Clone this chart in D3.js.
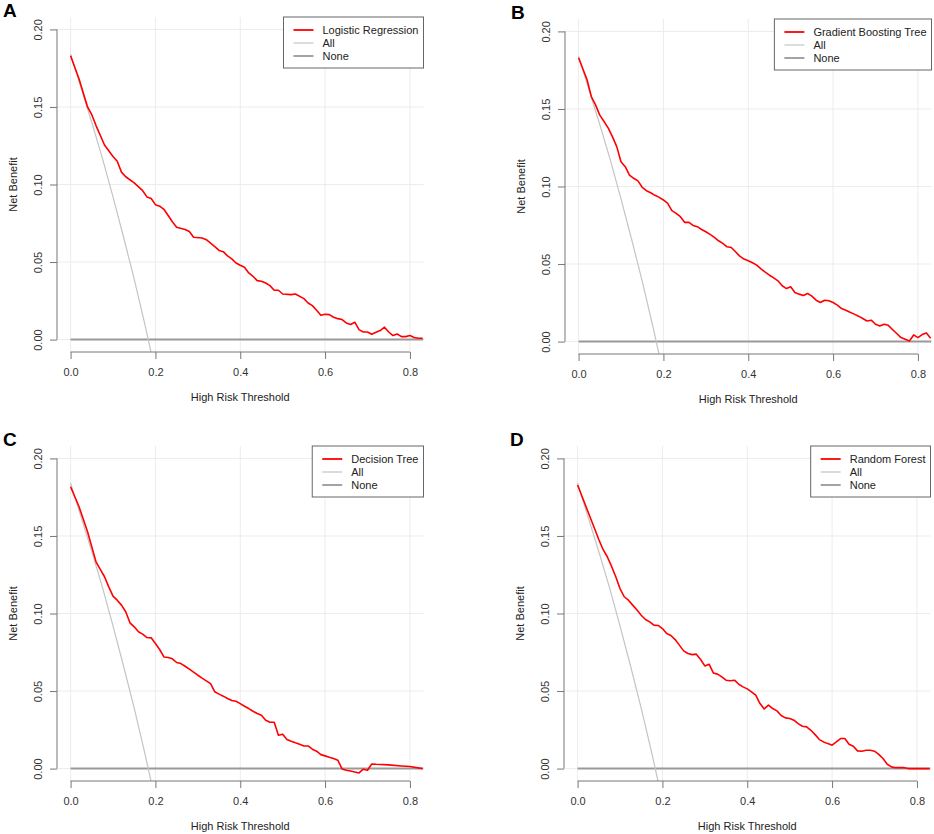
<!DOCTYPE html>
<html>
<head>
<meta charset="utf-8">
<script src="https://cdn.jsdelivr.net/npm/d3@7"></script>
<style>
  body { margin: 0; background: #fff; }
  text { font-family: "Liberation Sans", Arial, sans-serif; }
</style>
</head>
<body>
<svg id="chart" width="934" height="834"></svg>
<script>
// tick values
const xTicks = [0, 0.2, 0.4, 0.6, 0.8];
const yTicks = [0, 0.05, 0.10, 0.15, 0.20];

// "treat all" strategy
const allCurve = [
  [0, 0.184], [0.025, 0.162], [0.05, 0.140], [0.075, 0.117], [0.10, 0.092],
  [0.125, 0.066], [0.15, 0.039], [0.175, 0.010], [0.20, -0.021]
];

// model curves [threshold, net benefit]
const lrCurve = [
  [0, 0.183], [0.02, 0.168], [0.04, 0.150], [0.05, 0.145], [0.06, 0.138], [0.08, 0.1255],
  [0.10, 0.118], [0.11, 0.115], [0.12, 0.108], [0.13, 0.105], [0.15, 0.101], [0.17, 0.096],
  [0.18, 0.092], [0.19, 0.091], [0.20, 0.087], [0.21, 0.086], [0.22, 0.084], [0.24, 0.076],
  [0.25, 0.0725], [0.27, 0.071], [0.28, 0.0697], [0.29, 0.066], [0.31, 0.0655], [0.32, 0.0644],
  [0.34, 0.060], [0.35, 0.0575], [0.36, 0.0567], [0.37, 0.054], [0.38, 0.052], [0.39, 0.0494],
  [0.40, 0.0479], [0.41, 0.0466], [0.42, 0.043], [0.43, 0.0408], [0.44, 0.038], [0.45, 0.0376],
  [0.46, 0.0365], [0.47, 0.0348], [0.48, 0.0318], [0.49, 0.0318], [0.50, 0.0294], [0.52, 0.029],
  [0.53, 0.0294], [0.55, 0.0264], [0.56, 0.0236], [0.57, 0.0219], [0.58, 0.0189], [0.59, 0.0157],
  [0.60, 0.0163], [0.61, 0.0161], [0.62, 0.0144], [0.63, 0.0135], [0.64, 0.0129], [0.65, 0.0107],
  [0.66, 0.0097], [0.67, 0.0112], [0.68, 0.0064], [0.69, 0.0049], [0.70, 0.0049], [0.71, 0.0034],
  [0.72, 0.0047], [0.73, 0.0058], [0.74, 0.008], [0.75, 0.0049], [0.76, 0.0026], [0.77, 0.0036],
  [0.78, 0.0019], [0.79, 0.0019], [0.80, 0.0026], [0.81, 0.0013], [0.82, 0.0009], [0.83, 0.0009]
];

const gbtCurve = [
  [0, 0.183], [0.02, 0.1688], [0.03, 0.158], [0.04, 0.1526], [0.05, 0.146], [0.06, 0.1419],
  [0.07, 0.1376], [0.08, 0.132], [0.09, 0.1257], [0.10, 0.116], [0.11, 0.1128], [0.12, 0.1074],
  [0.13, 0.1053], [0.14, 0.1036], [0.15, 0.0995], [0.16, 0.0973], [0.17, 0.096], [0.18, 0.0943],
  [0.19, 0.093], [0.20, 0.0913], [0.21, 0.0891], [0.22, 0.0844], [0.23, 0.0827], [0.24, 0.0805],
  [0.25, 0.0769], [0.26, 0.0769], [0.27, 0.0749], [0.28, 0.0741], [0.29, 0.0723], [0.30, 0.0708],
  [0.31, 0.0691], [0.32, 0.0672], [0.33, 0.065], [0.34, 0.0633], [0.35, 0.0611], [0.36, 0.0607],
  [0.37, 0.0579], [0.38, 0.0551], [0.39, 0.0532], [0.40, 0.0521], [0.41, 0.0508], [0.42, 0.0493],
  [0.43, 0.0469], [0.44, 0.0448], [0.45, 0.0428], [0.46, 0.0411], [0.47, 0.0392], [0.48, 0.036],
  [0.49, 0.0342], [0.50, 0.0353], [0.51, 0.0316], [0.52, 0.0306], [0.53, 0.0297], [0.54, 0.031],
  [0.55, 0.0293], [0.56, 0.0267], [0.57, 0.0252], [0.58, 0.0267], [0.59, 0.0263], [0.60, 0.0252],
  [0.61, 0.0235], [0.62, 0.0213], [0.63, 0.0202], [0.64, 0.0189], [0.65, 0.0177], [0.66, 0.0164],
  [0.67, 0.0149], [0.68, 0.0133], [0.69, 0.0138], [0.70, 0.0112], [0.71, 0.0101], [0.72, 0.0112],
  [0.73, 0.0105], [0.74, 0.0078], [0.75, 0.0052], [0.76, 0.0026], [0.77, 0.0015], [0.78, 0.0004],
  [0.79, 0.0043], [0.80, 0.0026], [0.81, 0.0045], [0.82, 0.0056], [0.83, 0.0022]
];

const dtCurve = [
  [0, 0.1817], [0.02, 0.1688], [0.04, 0.1527], [0.06, 0.1333], [0.07, 0.1284], [0.08, 0.1237],
  [0.09, 0.1172], [0.10, 0.1112], [0.11, 0.1086], [0.12, 0.1054], [0.13, 0.1011], [0.14, 0.094],
  [0.15, 0.0914], [0.16, 0.0882], [0.17, 0.0867], [0.18, 0.0845], [0.19, 0.0843], [0.20, 0.0806],
  [0.21, 0.0768], [0.22, 0.072], [0.23, 0.0716], [0.24, 0.0708], [0.25, 0.0684], [0.26, 0.0677],
  [0.27, 0.066], [0.28, 0.0641], [0.29, 0.0622], [0.30, 0.0602], [0.31, 0.0583], [0.32, 0.0566],
  [0.33, 0.0548], [0.34, 0.0495], [0.35, 0.048], [0.36, 0.0467], [0.37, 0.0452], [0.38, 0.0439],
  [0.39, 0.0434], [0.40, 0.0419], [0.41, 0.0402], [0.42, 0.0387], [0.43, 0.037], [0.44, 0.0355],
  [0.45, 0.0344], [0.46, 0.0312], [0.47, 0.0299], [0.48, 0.0299], [0.49, 0.0215], [0.50, 0.0222],
  [0.51, 0.0187], [0.52, 0.0176], [0.53, 0.0166], [0.54, 0.0157], [0.55, 0.0146], [0.56, 0.0146],
  [0.57, 0.0125], [0.58, 0.0112], [0.59, 0.009], [0.60, 0.0082], [0.61, 0.0073], [0.62, 0.0065],
  [0.63, 0.0054], [0.64, -0.0002], [0.65, -0.0011], [0.66, -0.0015], [0.67, -0.0022], [0.68, -0.0028],
  [0.69, -0.0004], [0.70, -0.0011], [0.71, 0.003], [0.72, 0.0028], [0.75, 0.0024], [0.78, 0.0017],
  [0.80, 0.0013], [0.83, 0.0]
];

const rfCurve = [
  [0, 0.1828], [0.02, 0.1688], [0.04, 0.1548], [0.05, 0.1477], [0.06, 0.1413], [0.07, 0.1366],
  [0.08, 0.1305], [0.09, 0.1237], [0.10, 0.1161], [0.11, 0.1108], [0.12, 0.1086], [0.13, 0.1054],
  [0.14, 0.1022], [0.15, 0.0989], [0.16, 0.0961], [0.17, 0.0946], [0.18, 0.0925], [0.19, 0.0923],
  [0.20, 0.0903], [0.21, 0.0871], [0.22, 0.0858], [0.23, 0.0832], [0.24, 0.0796], [0.25, 0.0759],
  [0.26, 0.0742], [0.27, 0.0735], [0.28, 0.0738], [0.29, 0.0703], [0.30, 0.0662], [0.31, 0.0673],
  [0.32, 0.0617], [0.33, 0.0609], [0.34, 0.0591], [0.35, 0.057], [0.36, 0.0566], [0.37, 0.057],
  [0.38, 0.0544], [0.39, 0.0527], [0.40, 0.0514], [0.41, 0.0495], [0.42, 0.0473], [0.43, 0.0419],
  [0.44, 0.0385], [0.45, 0.0409], [0.46, 0.0387], [0.47, 0.0372], [0.48, 0.0342], [0.49, 0.0327],
  [0.50, 0.0323], [0.51, 0.0312], [0.52, 0.029], [0.53, 0.0273], [0.54, 0.0269], [0.55, 0.0247],
  [0.56, 0.0219], [0.57, 0.0187], [0.58, 0.0172], [0.59, 0.0161], [0.60, 0.0151], [0.61, 0.0172],
  [0.62, 0.0194], [0.63, 0.0194], [0.64, 0.0157], [0.65, 0.0144], [0.66, 0.0114], [0.67, 0.0112],
  [0.68, 0.0118], [0.69, 0.0118], [0.70, 0.0112], [0.71, 0.0092], [0.72, 0.0065], [0.73, 0.0028],
  [0.74, 0.0011], [0.75, 0.0006], [0.77, 0.0006], [0.78, 0.0], [0.83, 0.0]
];

const legendLabels = ["All", "None"];

// panel placement (plot region corners)
const panels = [
  { letter: "A", model: "Logistic Regression",     curve: lrCurve,  left: 57,  top: 17 },
  { letter: "B", model: "Gradient Boosting Tree",  curve: gbtCurve, left: 565, top: 19 },
  { letter: "C", model: "Decision Tree",           curve: dtCurve,  left: 57,  top: 446 },
  { letter: "D", model: "Random Forest",           curve: rfCurve,  left: 564, top: 446 }
];
const pw = 366.5, ph = 335;

const axisCol = "#777", textCol = "#333";
const redCol = "#ff0000", allCol = "#c4c4c4", noneCol = "#999";

const svg = d3.select("#chart");

panels.forEach((p, i) => {
  const x = d3.scaleLinear().domain([-0.032, 0.832]).range([p.left, p.left + pw]);
  const y = d3.scaleLinear().domain([-0.008, 0.208]).range([p.top + ph, p.top]);
  const g = svg.append("g");

  svg.append("clipPath").attr("id", "clip" + i)
    .append("rect")
    .attr("x", p.left).attr("y", p.top)
    .attr("width", pw).attr("height", ph);

  // grid
  g.selectAll(".vgrid").data(xTicks).enter().append("line")
    .attr("x1", d => x(d)).attr("x2", d => x(d))
    .attr("y1", p.top).attr("y2", p.top + ph)
    .attr("stroke", "#ececec").attr("stroke-width", 1);
  g.selectAll(".hgrid").data(yTicks).enter().append("line")
    .attr("x1", p.left).attr("x2", p.left + pw)
    .attr("y1", d => y(d)).attr("y2", d => y(d))
    .attr("stroke", "#ececec").attr("stroke-width", 1);

  const plot = g.append("g").attr("clip-path", `url(#clip${i})`);
  const line = d3.line().x(d => x(d[0])).y(d => y(d[1]));

  // none
  plot.append("path")
    .datum([[0, 0], [0.832, 0]])
    .attr("d", line)
    .attr("fill", "none").attr("stroke", noneCol).attr("stroke-width", 2);

  // all
  plot.append("path")
    .datum(allCurve)
    .attr("d", line)
    .attr("fill", "none").attr("stroke", allCol).attr("stroke-width", 1.2);

  // model
  plot.append("path")
    .datum(p.curve)
    .attr("d", line)
    .attr("fill", "none").attr("stroke", redCol).attr("stroke-width", 1.6)
    .attr("stroke-linejoin", "round");

  // x axis
  const xa = g.append("g")
    .attr("transform", `translate(0,${p.top + ph})`)
    .call(d3.axisBottom(x).tickValues(xTicks).tickSize(7).tickFormat(d3.format(".1f")));
  xa.select(".domain").remove();
  xa.append("line")
    .attr("x1", x(0)).attr("x2", x(0.8))
    .attr("stroke", axisCol);
  xa.selectAll(".tick line").attr("stroke", axisCol);
  xa.selectAll("text")
    .attr("y", 16).attr("fill", textCol)
    .style("font-size", "11px");

  // y axis
  const ya = g.append("g")
    .attr("transform", `translate(${p.left},0)`)
    .call(d3.axisLeft(y).tickValues(yTicks).tickSize(7).tickFormat(d3.format(".2f")));
  ya.select(".domain").remove();
  ya.append("line")
    .attr("y1", y(0)).attr("y2", y(0.2))
    .attr("stroke", axisCol);
  ya.selectAll(".tick line").attr("stroke", axisCol);
  ya.selectAll("text")
    .attr("x", 0).attr("dy", 0)
    .attr("text-anchor", "middle")
    .attr("transform", "translate(-15,0) rotate(-90)")
    .attr("fill", textCol)
    .style("font-size", "11px");

  // titles
  g.append("text")
    .attr("x", p.left + pw / 2).attr("y", p.top + ph + 49)
    .attr("text-anchor", "middle")
    .attr("fill", "#222").style("font-size", "11px")
    .text("High Risk Threshold");
  g.append("text")
    .attr("transform", `translate(${p.left - 40},${p.top + ph / 2}) rotate(-90)`)
    .attr("text-anchor", "middle")
    .attr("fill", "#222").style("font-size", "11px")
    .text("Net Benefit");

  // panel letter
  g.append("text")
    .attr("x", p.left - 54).attr("y", p.top)
    .attr("fill", "#000")
    .style("font-size", "19px").style("font-weight", "bold")
    .text(p.letter);

  // legend
  const labels = [p.model].concat(legendLabels);
  const cols = [redCol, allCol, noneCol];
  const lg = g.append("g");
  const box = lg.append("rect")
    .attr("y", p.top).attr("height", 51)
    .attr("fill", "#fff").attr("stroke", "#666").attr("stroke-width", 1);
  let maxW = 0;
  const items = lg.selectAll(".item").data(labels).enter().append("g");
  items.append("text")
    .attr("y", (d, k) => p.top + 13 + k * 13 + 4)
    .attr("fill", "#222").style("font-size", "11px")
    .text(d => d)
    .each(function () { maxW = Math.max(maxW, this.getComputedTextLength()); });
  const bw = 39 + maxW + 5;
  const bx = p.left + pw - bw;
  box.attr("x", bx).attr("width", bw);
  items.select("text").attr("x", bx + 39);
  items.append("line")
    .attr("x1", bx + 10).attr("x2", bx + 30)
    .attr("y1", (d, k) => p.top + 13 + k * 13)
    .attr("y2", (d, k) => p.top + 13 + k * 13)
    .attr("stroke", (d, k) => cols[k])
    .attr("stroke-width", (d, k) => k === 1 ? 1.2 : 1.8);
});
</script>
</body>
</html>
